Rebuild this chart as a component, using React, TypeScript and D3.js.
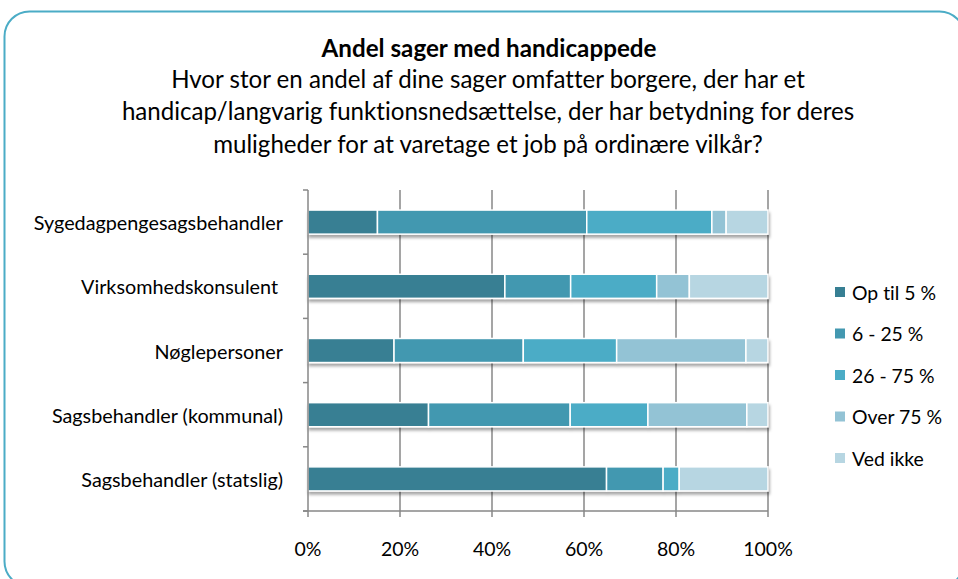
import React from "react";
import * as d3 from "d3";

const categories = [
  "Sygedagpengesagsbehandler",
  "Virksomhedskonsulent",
  "Nøglepersoner",
  "Sagsbehandler (kommunal)",
  "Sagsbehandler (statslig)",
];

const seriesNames = ["Op til 5 %", "6 - 25 %", "26 - 75 %", "Over 75 %", "Ved ikke"];

// percent per category, same order as categories
const opTil5 = [15.1, 42.8, 18.7, 26.2, 64.9];
const fra6til25 = [45.5, 14.3, 28.1, 30.8, 12.3];
const fra26til75 = [27.2, 18.7, 20.3, 16.9, 3.5];
const over75 = [3.1, 7.1, 28.1, 21.5, 0];
const vedIkke = [9.1, 17.1, 4.8, 4.6, 19.3];

const xTicks = [0, 20, 40, 60, 80, 100];

const colors = ["#377f93", "#4398b0", "#4bacc6", "#93c3d5", "#b7d6e2"];

const titleLines = [
  "Hvor stor en andel af dine sager omfatter borgere, der har et",
  "handicap/langvarig funktionsnedsættelse, der har betydning for deres",
  "muligheder for at varetage et job på ordinære vilkår?",
];

const FONT = "Lato, 'Open Sans', sans-serif";

export default function App() {
  const width = 958;
  const height = 579;
  const left = 308;
  const right = 768;
  const top = 190;
  const bottom = 511;

  const seriesValues = [opTil5, fra6til25, fra26til75, over75, vedIkke];
  const rows = categories.map((c, i) => {
    const r: any = { cat: c };
    seriesNames.forEach((s, j) => (r[s] = seriesValues[j][i]));
    return r;
  });
  const stacked = d3.stack().keys(seriesNames)(rows);

  const x = d3.scaleLinear().domain([0, 100]).range([left, right]);
  const y = d3.scaleBand().domain(categories).range([top, bottom]);
  const barH = y.bandwidth() * 0.375;
  const gridColor = "#878787";

  return (
    <div style={{ position: "absolute", left: 0, top: 0 }}>
      <svg width={width} height={height} style={{ display: "block", fontVariantLigatures: "none" }}>
        <defs>
          <filter id="shadow" x="-5%" y="-40%" width="110%" height="200%">
            <feDropShadow dx="1" dy="3" stdDeviation="1.8" floodColor="#000" floodOpacity="0.35" />
          </filter>
        </defs>
        <rect x={0} y={0} width={width} height={height} fill="#fff" />
        <rect x={4.5} y={11.5} width={960} height={575} rx={25} ry={25} fill="#fff" stroke="#4bacc6" strokeWidth={2} />

        <g fontFamily={FONT} textAnchor="middle" fill="#000">
          <text x={489} y={47} fontSize={24.2} fontWeight="bold" dominantBaseline="central">
            Andel sager med handicappede
          </text>
          {titleLines.map((t, i) => (
            <text key={i} x={488} y={78 + i * 32.5} fontSize={24.1} dominantBaseline="central">
              {t}
            </text>
          ))}
        </g>

        {/* gridlines */}
        {xTicks.slice(1).map((t) => (
          <line key={t} x1={x(t)} x2={x(t)} y1={top} y2={bottom} stroke={gridColor} strokeWidth={1.5} />
        ))}

        {/* bars */}
        {categories.map((c, i) => (
          <g key={c} filter="url(#shadow)">
            {stacked.map((s, j) => {
              const d = s[i];
              const w = x(d[1]) - x(d[0]);
              if (w <= 0) return null;
              return (
                <rect
                  key={j}
                  x={x(d[0])}
                  y={(y(c) as number) + (y.bandwidth() - barH) / 2}
                  width={w}
                  height={barH}
                  fill={colors[j]}
                  stroke="#fff"
                  strokeWidth={1.5}
                />
              );
            })}
          </g>
        ))}

        {/* axes */}
        <line x1={left} x2={left} y1={top} y2={bottom} stroke={gridColor} strokeWidth={1.5} />
        {d3.range(categories.length + 1).map((i) => {
          const yy = top + i * y.step();
          return <line key={i} x1={left - 5} x2={left} y1={yy} y2={yy} stroke={gridColor} strokeWidth={1.5} />;
        })}
        <line x1={left - 5} x2={right} y1={bottom} y2={bottom} stroke={gridColor} strokeWidth={1.5} />
        {xTicks.map((t) => (
          <g key={t}>
            <line x1={x(t)} x2={x(t)} y1={bottom} y2={bottom + 6} stroke={gridColor} strokeWidth={1.5} />
            <text x={x(t)} y={548} textAnchor="middle" dominantBaseline="central" fontFamily={FONT} fontSize={19.5}>
              {t + "%"}
            </text>
          </g>
        ))}

        {categories.map((c, i) => (
          <text
            key={c}
            x={i === 1 ? 278 : 283}
            y={(y(c) as number) + y.bandwidth() / 2}
            textAnchor="end"
            dominantBaseline="central"
            fontFamily={FONT}
            fontSize={19.8}
          >
            {c}
          </text>
        ))}

        {/* legend */}
        {seriesNames.map((s, i) => {
          const cy = 292 + i * 41.5;
          return (
            <g key={s}>
              <rect x={835} y={cy - 5} width={10} height={10} fill={colors[i]} />
              <text x={852} y={cy} dominantBaseline="central" fontFamily={FONT} fontSize={19.4}>
                {s}
              </text>
            </g>
          );
        })}
      </svg>
    </div>
  );
}
